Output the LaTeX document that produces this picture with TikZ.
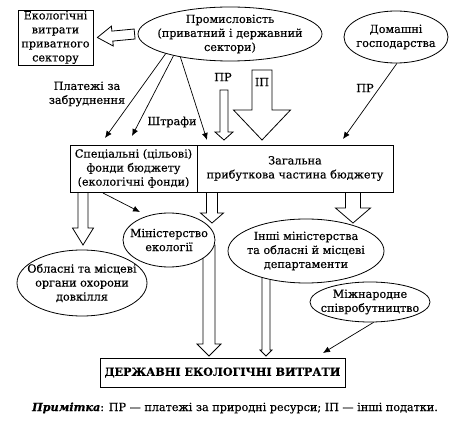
\documentclass[tikz,border=0pt]{standalone}
\usepackage{fontspec}
\setmainfont{DejaVu Serif}[FakeBold=0.4]
\usepackage{tikz}
\usetikzlibrary{shapes.geometric,arrows.meta,calc,backgrounds}
\newcommand{\nfont}{\fontsize{11.2}{14}\selectfont}
\tikzset{
  box/.style={rectangle,draw,line width=0.8pt,fill=white,align=center,font=\nfont,inner sep=0pt},
  oval/.style={ellipse,draw,line width=0.8pt,fill=white,align=center,font=\nfont,inner sep=-30pt},
  lbl/.style={align=center,font=\nfont,inner sep=1pt},
  flow/.style={-{Latex[length=7pt,width=6pt]},line width=0.7pt},
  hollow/.style={draw,line width=0.8pt,fill=white,line join=miter},
}
% hollow block arrow: tail, tip, half shaft, half head, head length
\newcommand{\harrow}[5]{%
  \coordinate (hb) at ($(#2)!#5!(#1)$);
  \draw[hollow] ($(#1)!#3!90:(#2)$) -- ($(hb)!#3!90:(#2)$) -- ($(hb)!#4!90:(#2)$)
    -- (#2) -- ($(hb)!#4!-90:(#2)$) -- ($(hb)!#3!-90:(#2)$) -- ($(#1)!#3!-90:(#2)$) -- cycle;
}

\begin{document}
\begin{tikzpicture}[x=1pt,y=1pt]
  \useasboundingbox (0,0) rectangle (456,-422);

  \node[box,minimum width=75pt,minimum height=55pt] (priv) at (55.5,-37.5) {Екологічні\\витрати\\приватного\\сектору};
  \node[oval,minimum width=184pt,minimum height=54pt] (prom) at (230,-34) {Промисловість\\(приватний і державний\\сектори)};
  \node[oval,minimum width=104pt,minimum height=52pt] (home) at (396,-37) {Домашні\\господарства};
  \node[box,minimum width=127pt,minimum height=47pt] (fund) at (133.5,-168.5) {Спеціальні (цільові)\\фонди бюджету\\(екологічні фонди)};
  \node[box,minimum width=196pt,minimum height=47pt] (gen) at (295,-168.5) {Загальна\\прибуткова частина бюджету};
  \node[oval,minimum width=92pt,minimum height=54pt] (minec) at (169,-240) {Міністерство\\екології};
  \node[oval,minimum width=130pt,minimum height=66pt] (reg) at (82,-283) {Обласні та місцеві\\органи охорони\\довкілля};
  \node[oval,minimum width=156pt,minimum height=64pt] (other) at (306,-251) {Інші міністерства\\та обласні й місцеві\\департаменти};
  \node[oval,minimum width=120pt,minimum height=40pt] (intl) at (370,-302) {Міжнародне\\співробутництво};
  \node[box,minimum width=245pt,minimum height=29pt,font=\nfont\bfseries] (state) at (222.5,-372.5) {ДЕРЖАВНІ ЕКОЛОГІЧНІ ВИТРАТИ};
  \node[lbl] (note) at (235,-408) {\textbf{\textit{Примітка}}: ПР — платежі за природні ресурси; ІП — інші податки.};

  % free ends
  \coordinate (privtip) at ($(priv.east)+(4pt,0)$);
  \coordinate (pr0) at (224,-90);
  \coordinate (pr1) at (224,-140);
  \coordinate (ip0) at (262,-70);
  \coordinate (ip1) at (262,-140);
  \coordinate (t1) at (105,-138);
  \coordinate (t2) at (132,-136);
  \coordinate (t3) at (207,-140);
  \coordinate (t4) at (343,-139);
  \coordinate (f0) at (103,-193);
  \coordinate (t5) at (140,-212);
  \coordinate (t6) at (323,-353);

  \begin{scope}[on background layer]
    \harrow{$(prom.west)+(-3pt,0)$}{privtip}{5pt}{10pt}{15pt}
    \harrow{pr0}{pr1}{4pt}{9pt}{8pt}
    \harrow{ip0}{ip1}{10pt}{28.5pt}{30pt}
    \harrow{83,-185}{83,-245}{5pt}{10.5pt}{17pt}
    \harrow{212,-185}{212,-223}{5.5pt}{11.5pt}{10pt}
    \harrow{353,-185}{353,-223}{7.5pt}{17.5pt}{15pt}
    \harrow{209,-245}{209,-356}{6pt}{12pt}{12pt}
    \harrow{266,-270}{266,-356}{4pt}{6pt}{6pt}
  \end{scope}

  \node[lbl] (prlbl) at (223,-77) {ПР};
  \node[lbl] (iplbl) at (262,-82) {ІП};
  \node[lbl] (pay) at (87,-94) {Платежі за\\забруднення};
  \node[lbl] (fine) at (172,-122) {Штрафи};
  \node[lbl] (prhome) at (365,-88) {ПР};

  \draw[flow] (prom.197) -- (t1);
  \draw[flow] (prom.201) -- (t2);
  \draw[flow] (prom.205) -- (t3);
  \draw[flow] (home.272) -- (t4);
  \draw[flow] (f0) -- (t5);
  \draw[flow] (intl.280) -- (t6);
\end{tikzpicture}
\end{document}
